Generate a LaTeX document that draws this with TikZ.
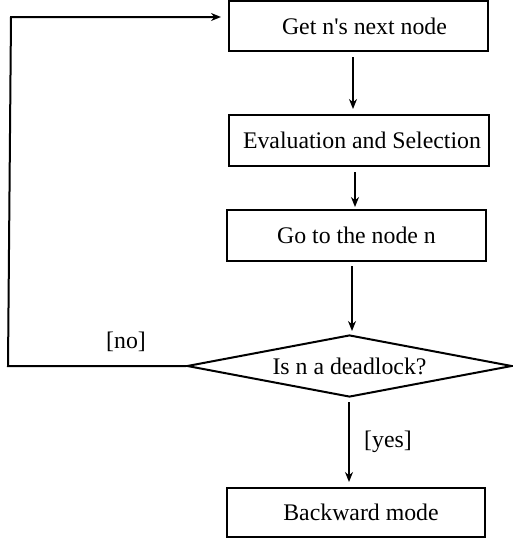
\documentclass[tikz,border=0pt]{standalone}
\usepackage{fontspec}
\setmainfont{Liberation Serif}
\usetikzlibrary{arrows.meta,shapes.geometric}
\begin{document}
\begin{tikzpicture}[x=1pt,y=-1pt,
  every node/.style={font=\fontsize{23.8}{28}\selectfont},
  box/.style={draw,line width=2pt,rectangle,inner sep=0pt},
  decision/.style={draw,line width=2pt,diamond,inner sep=0pt,shape aspect=5},
  conn/.style={line width=2pt,-{Stealth[length=10pt,width=8pt]}},
  lab/.style={inner sep=0pt}]
\useasboundingbox (0,0) rectangle (513,541);
\node[box,minimum width=259pt,minimum height=50pt] (b1) at (358.5,26) {\hspace{12pt}Get n\textquotesingle s next node};
\node[box,minimum width=260pt,minimum height=51pt] (b2) at (359,140.5) {\hspace{6pt}Evaluation and Selection};
\node[box,minimum width=259pt,minimum height=51pt] (b3) at (356.5,235.5) {Go to the node n};
\node[decision,minimum width=325pt,minimum height=62pt] (d) at (349.5,366) {Is n a deadlock?};
\node[box,minimum width=258pt,minimum height=49pt] (b4) at (356,512.5) {\hspace{10pt}Backward mode};
\coordinate (lb) at (8,366);
\coordinate (lt) at (11,17);
\draw[conn,shorten <=5pt,shorten >=5pt] (b1.south -| 353,0) -- (b2.north -| 353,0);
\draw[conn,shorten <=5pt,shorten >=2pt] (b2.south -| 355,0) -- (b3.north -| 355,0);
\draw[conn,shorten <=4pt,shorten >=3pt] (b3.south -| 352,0) -- (d.north -| 352,0);
\draw[conn,shorten <=4pt,shorten >=5pt] (d.south -| 349,0) -- (b4.north -| 349,0);
\draw[conn,shorten >=7pt] (d.west) -- (lb) -- (lt) -- (b1.west |- lt);
\node[lab] (no) at (126,342) {[no]};
\node[lab] (yes) at (388,442) {[yes]};
\end{tikzpicture}
\end{document}
